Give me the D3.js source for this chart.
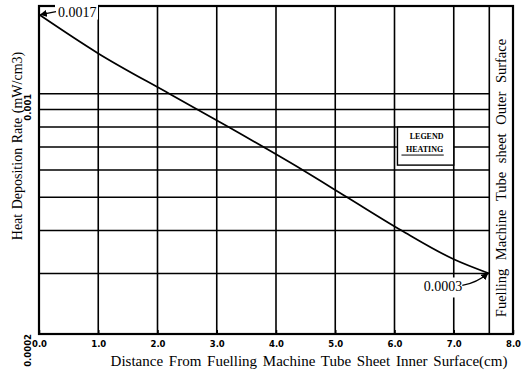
<!DOCTYPE html>
<html>
<head>
<meta charset="utf-8">
<script src="https://cdn.jsdelivr.net/npm/d3@7"></script>
<style>
  html, body { margin: 0; padding: 0; background: #fff; }
  svg { display: block; }
</style>
</head>
<body>
<svg id="chart" width="531" height="372"></svg>
<script>
// Heat deposition rate through the fuelling machine tube sheet
const distance = [0, 1.0, 2.2, 3.2, 4.45, 5.2, 6.12, 7.0, 7.6];
const heating  = [0.0017, 0.00131, 0.001, 0.0008, 0.0006, 0.0005, 0.0004, 0.00033, 0.0003];

const xTicks = [0, 1, 2, 3, 4, 5, 6, 7, 8];
const xTickLabels = ["0.0", "1.0", "2.0", "3.0", "4.0", "5.0", "6.0", "7.0", "8.0"];
const yGrid = [0.0003, 0.0004, 0.0005, 0.0006, 0.0007, 0.0008, 0.0009, 0.001];
const yTickValues = [0.0002, 0.001];
const yTickLabels = ["0.0002", "0.001"];
const surfaceX = 7.6;
const startLabel = "0.0017";
const endLabel = "0.0003";

const svg = d3.select("#chart");
const W = 531, H = 372;
const m = { left: 39, right: 18, top: 6, bottom: 38 };

const x = d3.scaleLinear().domain([0, 8]).range([m.left, W - m.right]);
const y = d3.scaleLog().domain([0.0002, 0.0018]).range([H - m.bottom, m.top]);

const serif = "'Liberation Serif', 'Times New Roman', serif";
const sans = "'DejaVu Sans', sans-serif";

svg.append("rect").attr("width", W).attr("height", H).attr("fill", "#fff");

const defs = svg.append("defs");
defs.append("marker")
  .attr("id", "arrow").attr("viewBox", "0 0 10 10")
  .attr("refX", 9).attr("refY", 5)
  .attr("markerWidth", 7).attr("markerHeight", 7)
  .attr("markerUnits", "userSpaceOnUse")
  .attr("orient", "auto")
  .append("path").attr("d", "M0,0 L10,5 L0,10 z").attr("fill", "#000");

const grid = svg.append("g").attr("stroke", "#000").attr("stroke-width", 1.6);

// horizontal grid lines stop at the outer surface line
grid.selectAll("line.h").data(yGrid).join("line")
  .attr("class", "h")
  .attr("x1", x(0)).attr("x2", x(surfaceX))
  .attr("y1", d => y(d)).attr("y2", d => y(d));

// vertical grid lines at each whole cm
grid.selectAll("line.v").data(xTicks.slice(1, -1)).join("line")
  .attr("class", "v")
  .attr("x1", d => x(d)).attr("x2", d => x(d))
  .attr("y1", y(0.0018)).attr("y2", y(0.0002));

// outer surface line
grid.append("line")
  .attr("x1", x(surfaceX)).attr("x2", x(surfaceX))
  .attr("y1", y(0.0018)).attr("y2", y(0.0002));

// frame
svg.append("rect")
  .attr("x", x(0)).attr("y", y(0.0018))
  .attr("width", x(8) - x(0)).attr("height", y(0.0002) - y(0.0018))
  .attr("fill", "none").attr("stroke", "#000").attr("stroke-width", 2.2);

// heating curve
const pts = distance.map((d, i) => [d, heating[i]]);
svg.append("path")
  .datum(pts)
  .attr("fill", "none").attr("stroke", "#000").attr("stroke-width", 1.7)
  .attr("d", d3.line().x(d => x(d[0])).y(d => y(d[1])).curve(d3.curveMonotoneX));

// x axis ticks and labels
const xAxis = d3.axisBottom(x).tickValues(xTicks).tickSize(4)
  .tickFormat((d, i) => xTickLabels[i]);
const gx = svg.append("g").attr("transform", `translate(0,${y(0.0002)})`).call(xAxis);
gx.select(".domain").remove();
gx.selectAll(".tick line").attr("stroke", "#000").attr("stroke-width", 1.5).attr("y2", -4);
gx.selectAll(".tick text")
  .attr("y", 7).attr("dy", "0.71em")
  .attr("font-family", sans).attr("font-weight", "bold").attr("font-size", 8.5).attr("fill", "#000");

// y axis labels (rotated)
const gy = svg.append("g");
gy.selectAll("text").data(yTickValues).join("text")
  .attr("transform", d => `translate(${x(0) - 8},${y(d)}) rotate(-90)`)
  .attr("text-anchor", "end")
  .attr("font-family", sans).attr("font-weight", "bold").attr("font-size", 8.5)
  .text((d, i) => yTickLabels[i]);

// axis titles
svg.append("text")
  .attr("x", 309).attr("y", 366)
  .attr("text-anchor", "middle")
  .attr("font-family", serif).attr("font-size", 15)
  .attr("word-spacing", 2)
  .text("Distance From Fuelling Machine Tube Sheet Inner Surface(cm)");

svg.append("text")
  .attr("transform", `translate(22,146) rotate(-90)`)
  .attr("text-anchor", "middle")
  .attr("font-family", serif).attr("font-size", 14)
  .attr("word-spacing", 1)
  .text("Heat Deposition Rate (mW/cm3)");

// outer surface caption between the surface line and the frame
svg.append("text")
  .attr("transform", `translate(${(x(surfaceX) + x(8)) / 2 + 5},178) rotate(-90)`)
  .attr("text-anchor", "middle")
  .attr("font-family", serif).attr("font-size", 14.5)
  .attr("word-spacing", 5)
  .text("Fuelling Machine Tube sheet Outer Surface");

// legend box
const lg = svg.append("g");
const lgX0 = x(6.05), lgX1 = x(7.0), lgY0 = y(0.0008), lgY1 = y(0.00062);
lg.append("rect")
  .attr("x", lgX0).attr("y", lgY0)
  .attr("width", lgX1 - lgX0).attr("height", lgY1 - lgY0)
  .attr("fill", "#fff").attr("stroke", "#000").attr("stroke-width", 1.4);
lg.append("text").attr("x", (lgX0 + lgX1) / 2 + 1).attr("y", lgY0 + 12)
  .attr("text-anchor", "middle").attr("font-family", serif).attr("font-weight", "bold")
  .attr("font-size", 8).text("LEGEND");
lg.append("text").attr("x", (lgX0 + lgX1) / 2 - 1).attr("y", lgY0 + 25)
  .attr("text-anchor", "middle").attr("font-family", serif).attr("font-weight", "bold")
  .attr("font-size", 8).text("HEATING");
lg.append("line")
  .attr("x1", lgX0 + 4).attr("x2", lgX1 - 10)
  .attr("y1", lgY0 + 28).attr("y2", lgY0 + 28)
  .attr("stroke", "#000").attr("stroke-width", 1);

// start value annotation
const sx = x(distance[0]), sy = y(heating[0]);
svg.append("rect").attr("x", sx + 16).attr("y", sy - 12).attr("width", 43).attr("height", 17).attr("fill", "#fff");
svg.append("text")
  .attr("x", sx + 19).attr("y", sy + 2)
  .attr("font-family", serif).attr("font-size", 14)
  .text(startLabel);
svg.append("line")
  .attr("x1", sx + 17).attr("y1", sy - 3)
  .attr("x2", sx + 1.5).attr("y2", sy)
  .attr("stroke", "#000").attr("stroke-width", 1.3)
  .attr("marker-end", "url(#arrow)");

// end value annotation
const ex = x(distance[distance.length - 1]), ey = y(heating[heating.length - 1]);
svg.append("rect").attr("x", ex - 66).attr("y", ey + 4).attr("width", 44).attr("height", 20).attr("fill", "#fff");
svg.append("text")
  .attr("x", ex - 27).attr("y", ey + 18)
  .attr("text-anchor", "end")
  .attr("font-family", serif).attr("font-size", 14)
  .text(endLabel);
svg.append("path")
  .attr("d", `M${ex - 27},${ey + 12} Q${ex - 12},${ey + 9} ${ex - 1.5},${ey}`)
  .attr("fill", "none").attr("stroke", "#000").attr("stroke-width", 1.3)
  .attr("marker-end", "url(#arrow)");
</script>
</body>
</html>
